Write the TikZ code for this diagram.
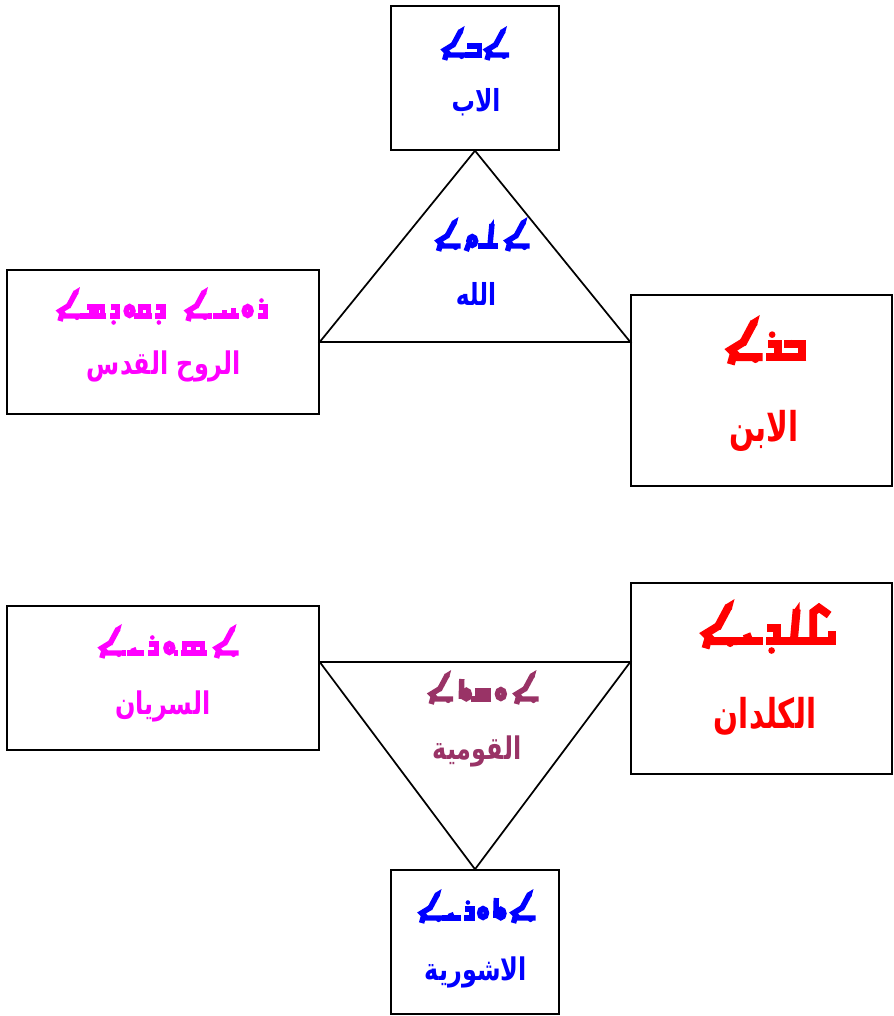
\documentclass[tikz,border=0pt]{standalone}
\usepackage{fontspec}
\usepackage{graphicx}
\TeXXeTstate=1
\newfontfamily\arabfont[Script=Arabic]{DejaVu Sans}
\definecolor{plum}{RGB}{153,51,102}
\definecolor{pblue}{RGB}{0,0,255}
\definecolor{pred}{RGB}{255,0,0}
\definecolor{pmag}{RGB}{255,0,255}
% Arabic caption: size, vertical stretch, text (already wrapped in \beginR...\endR)
\newcommand{\arb}[3]{\scalebox{1}[#2]{\fontsize{#1}{#1}\arabfont\bfseries #3}}

% Estrangela letters drawn as strokes: baseline at y=0, right edge at x=0,
% each letter extends to the left by its advance width \syw<name>.
\def\sywalaph{24}\def\sywbeth{14}\def\sywdalath{10}\def\sywrish{10}
\def\sywwaw{11}\def\sywhe{13}\def\sywheth{24}\def\sywqoph{12}
\def\sywshin{20}\def\sywsemkath{24}\def\sywyudh{15}\def\sywkaph{18}
\def\sywlamadh{14}\def\sywmim{14}\def\sywtaw{14}
\def\sywj{2}\def\syws{3}\def\sywsp{16}
\tikzset{
  sy/alaph/.pic={\draw (-5,26) -- (-13,11);
                 \fill (-1,31) -- (-7.5,27) -- (-3,23.5) -- cycle;
                 \draw (-12,12.5) -- (-21,7) -- (-16,2) -- (1,2);
                 \draw (-19,4) -- (-21,-3);
                 \fill (-4,0.5) circle (2.6);},
  sy/beth/.pic={\draw (-12,14) -- (-12,11) -- (-2,11) -- (-2,2);
                \draw (1,2) -- (-15,2);},
  sy/dalath/.pic={\draw (-9,11) -- (-2,11) -- (-2,2) -- (-10,2);
                  \fill (-6,-4.5) circle (2.3);},
  sy/rish/.pic={\draw (-9,11) -- (-2,11) -- (-2,2) -- (-10,2);
                \fill (-6,17.5) circle (2.3);},
  sy/waw/.pic={\draw (-5.5,7) ellipse (3.4 and 4.4);},
  sy/he/.pic={\draw (-6,7) ellipse (3.4 and 4.4);
              \draw (-9.5,4) -- (-12,-3);},
  sy/heth/.pic={\draw (1,2) -- (-25,2);
                \draw (-4,2) -- (-4,10); \draw (-13,2) -- (-13,8);},
  sy/qoph/.pic={\draw (-2,2) -- (-2,11) -- (-10,11) -- (-10,2);
                \draw (1,2) -- (-13,2);},
  sy/shin/.pic={\draw (1,2) -- (-21,2);
                \draw (-3,2) -- (-3,11) -- (-9,11) -- (-9,2);
                \draw (-14,2) -- (-14,11) -- (-18,11);},
  sy/semkath/.pic={\draw (1,2) -- (-25,2);
                   \draw (-3,2) -- (-3,11) -- (-21,11) -- (-21,2);
                   \draw (-12,2) -- (-12,11);},
  sy/yudh/.pic={\draw (1,2) -- (-16,2); \draw (-8,2) -- (-10,7);},
  sy/kaph/.pic={\draw (-3,20) -- (-10,25) -- (-14,22) -- (-14,2);
                \draw (-19,2) -- (-1,2) -- (-1,9);},
  sy/lamadh/.pic={\draw (-7,2) -- (-5,24);
                  \fill (-3,29) -- (-7.2,23) -- (-3,23) -- cycle;
                  \draw (1,2) -- (-15,2);},
  sy/mim/.pic={\draw (1,2) -- (-15,2);
               \draw (-2,2) -- (-2,10) -- (-8,10) -- (-8,2);
               \draw (-12,2) -- (-12,13);},
  sy/taw/.pic={\draw (-5.5,6.5) ellipse (3.1 and 4.2);
               \draw (-10.5,2) -- (-10,22);},
  sy/j/.pic={\draw (1,2) -- (-3,2);},
  sy/s/.pic={},
  sy/sp/.pic={},
  box/.style={draw=black, line width=1.1pt, fill=white, inner sep=0pt},
  edge/.style={draw=black, line width=1.3pt, line join=miter},
  lbl/.style={inner sep=0pt, anchor=base}
}
% \syword{baseline centre}{scale}{width in px}{colour}{letters, first letter first}
\newcommand{\syword}[5]{%
  \gdef\sytot{0}%
  \foreach \g in {#5}{\pgfmathsetmacro\sytmp{\sytot+\csname syw\g\endcsname}\xdef\sytot{\sytmp}}%
  \pgfmathsetmacro\syxs{#3/(\sytot*#2)}%
  \begin{scope}[shift={#1}, x=#2*0.75pt, y=#2*0.75pt, line width=#2*4.1pt, color=#4]
    \begin{scope}[xscale=\syxs]
      \pgfmathsetmacro\sytmp{\sytot/2}\xdef\sycur{\sytmp}%
      \foreach \g in {#5}{%
        \pic at (\sycur,0) {sy/\g};
        \pgfmathsetmacro\sytmp{\sycur-\csname syw\g\endcsname}\xdef\sycur{\sytmp}}
    \end{scope}
  \end{scope}}

\begin{document}
\begin{tikzpicture}[x=0.75pt, y=-0.75pt]
\useasboundingbox (0,0) rectangle (893,1016);
% --- upper group: the Trinity ---
\node[box, minimum width=168*0.75pt, minimum height=144*0.75pt] (father) at (475,78) {};
\node[box, minimum width=312*0.75pt, minimum height=144*0.75pt] (spirit) at (163,342) {};
\node[box, minimum width=261*0.75pt, minimum height=191*0.75pt] (son) at (761.5,390.5) {};
\coordinate (godL) at (spirit.east |- 0,342);
\coordinate (godR) at (son.west |- 0,342);
\draw[edge] (father.south) -- (godR) -- (godL) -- cycle;

\syword{(475,57)}{1}{66}{pblue}{alaph,s,beth,j,alaph}
\node[lbl, text=pblue] (fatherA) at (476,112) {\arb{17.5pt}{1.3}{\beginR الاب\endR}};
\syword{(480,248)}{1}{97}{pblue}{alaph,s,lamadh,j,he,s,alaph}
\node[lbl, text=pblue] (godA) at (476,305) {\arb{17.5pt}{1.3}{\beginR الله\endR}};
\syword{(161,318)}{1}{213}{pmag}{rish,s,waw,s,heth,j,alaph,sp,dalath,s,qoph,j,waw,s,dalath,s,shin,j,alaph}
\node[lbl, text=pmag] (spiritA) at (164,374) {\arb{18pt}{1.3}{\beginR الروح القدس\endR}};
\syword{(765,360)}{1.45}{80}{pred}{beth,j,rish,s,alaph}
\node[lbl, text=pred] (sonA) at (764,441) {\arb{22pt}{1.4}{\beginR الابن\endR}};

% --- lower group: the nation ---
\node[box, minimum width=312*0.75pt, minimum height=144*0.75pt] (syriac) at (163,678) {};
\node[box, minimum width=261*0.75pt, minimum height=191*0.75pt] (chaldean) at (761.5,678.5) {};
\node[box, minimum width=168*0.75pt, minimum height=144*0.75pt] (assyrian) at (475,942) {};
\coordinate (natL) at (syriac.east |- 0,662);
\coordinate (natR) at (chaldean.west |- 0,662);
\draw[edge] (natL) -- (natR) -- (assyrian.north) -- cycle;

\syword{(166,655)}{1}{143}{pmag}{alaph,s,semkath,j,waw,s,rish,s,yudh,j,alaph}
\node[lbl, text=pmag] (syriacA) at (163,714) {\arb{18pt}{1.3}{\beginR السريان\endR}};
\syword{(767,644)}{1.45}{133}{pred}{kaph,j,lamadh,j,dalath,s,yudh,j,alaph}
\node[lbl, text=pred] (chaldeanA) at (765,728) {\arb{22pt}{1.4}{\beginR الكلدان\endR}};
\syword{(481,701)}{1}{113}{plum}{alaph,s,waw,s,mim,j,taw,s,alaph}
\node[lbl, text=plum] (nationA) at (477,759) {\arb{18pt}{1.3}{\beginR القومية\endR}};
\syword{(476,920)}{1}{117}{pblue}{alaph,s,taw,s,waw,s,rish,s,yudh,j,alaph}
\node[lbl, text=pblue] (assyrianA) at (476,980) {\arb{18pt}{1.3}{\beginR الاشورية\endR}};
\end{tikzpicture}
\end{document}
